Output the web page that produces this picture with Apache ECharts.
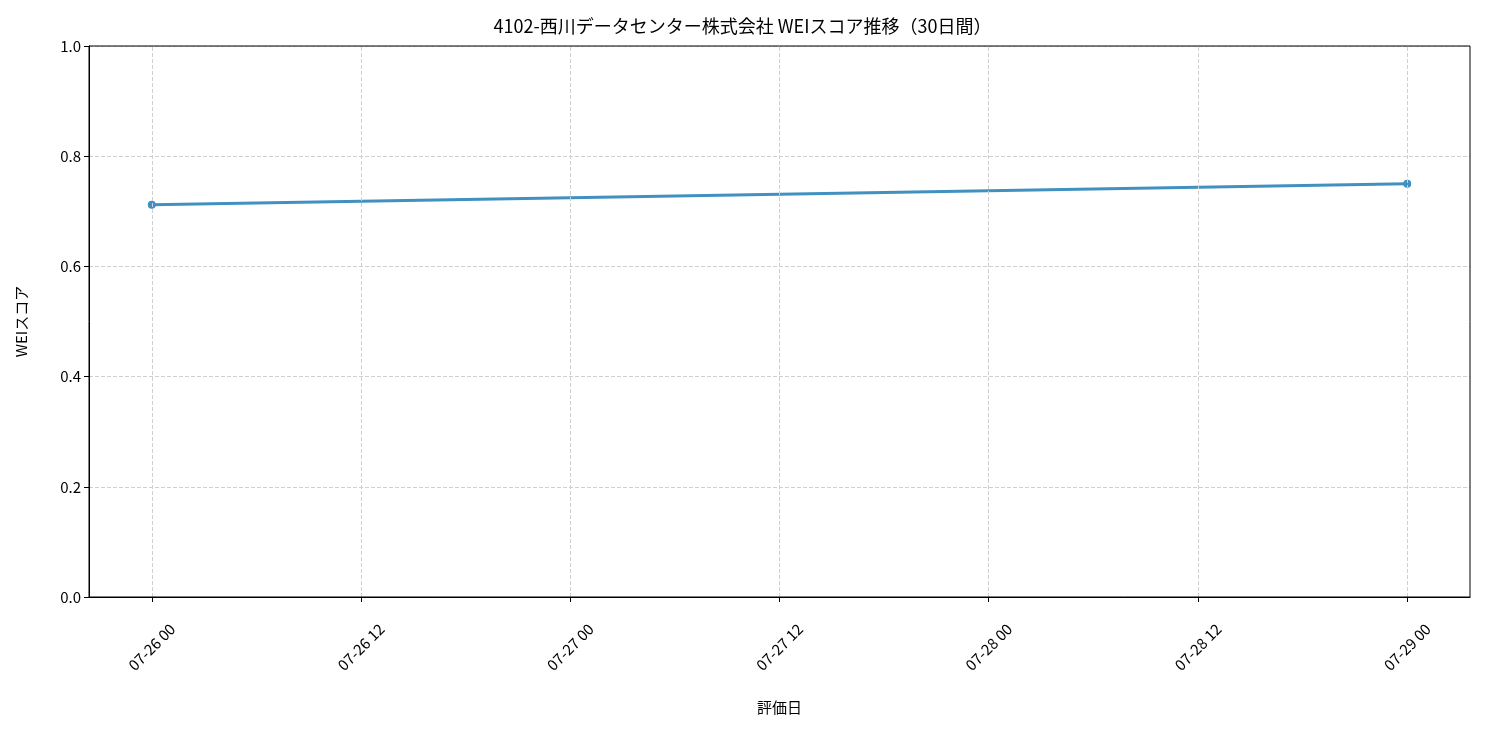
<!DOCTYPE html>
<html><head><meta charset="utf-8">
<script src="https://cdn.jsdelivr.net/npm/echarts@6/dist/echarts.min.js"></script>
<style>html,body{margin:0;padding:0;background:#fff}#c{width:1485px;height:734px}</style>
</head><body><div id="c"></div>
<script>
const dates = ['2025-07-26T00:00:00Z', '2025-07-29T00:00:00Z'];
const scores = [0.712, 0.750];
const tickLabels = ['2025-07-26T00:00:00Z','2025-07-26T12:00:00Z','2025-07-27T00:00:00Z','2025-07-27T12:00:00Z','2025-07-28T00:00:00Z','2025-07-28T12:00:00Z','2025-07-29T00:00:00Z'];
const xs = dates.map(d => Date.parse(d));
const ticks = tickLabels.map(d => Date.parse(d));
const pad = (xs[1]-xs[0])*0.05;
const p2 = n => String(n).padStart(2,'0');
const fmt = v => { const d = new Date(v); return p2(d.getUTCMonth()+1)+'-'+p2(d.getUTCDate())+' '+p2(d.getUTCHours()); };
const font = '"Noto Sans CJK JP", sans-serif';
const chart = echarts.init(document.getElementById('c'));
chart.setOption({
  animation:false,
  textStyle:{fontFamily:font},
  title:{text:'4102-西川データセンター株式会社 WEIスコア推移（30日間）',left:'center',top:12,textStyle:{fontSize:18,fontWeight:'normal',color:'#000',fontFamily:font}},
  grid:{left:89,right:15,top:46,bottom:137},
  xAxis:{type:'value',min:xs[0]-pad,max:xs[1]+pad,name:'評価日',nameLocation:'middle',nameGap:103,
    nameTextStyle:{fontSize:15,color:'#000'},
    axisLine:{lineStyle:{color:'#000'}},splitLine:{show:false},
    axisTick:{customValues:ticks,length:5,lineStyle:{color:'#000'}},
    axisLabel:{customValues:ticks,formatter:fmt,rotate:45,fontSize:15,color:'#000',margin:50,align:'center',verticalAlign:'middle'}},
  yAxis:{type:'value',min:0,max:1,interval:0.2,name:'WEIスコア',nameLocation:'middle',nameGap:60,
    nameTextStyle:{fontSize:15,color:'#000'},
    axisLine:{show:true,lineStyle:{color:'#000'}},axisTick:{show:true,length:5,lineStyle:{color:'#000'}},
    axisLabel:{formatter:v=>v.toFixed(1),fontSize:15,color:'#000'},
    splitLine:{lineStyle:{type:'dashed',color:'#d0d0d0'}}},
  series:[{type:'line',data:xs.map((x,i)=>[x,scores[i]]),symbol:'circle',symbolSize:8,
    lineStyle:{width:3,color:'#4090c0'},itemStyle:{color:'#4090c0'},
    markLine:{silent:true,symbol:'none',label:{show:false},lineStyle:{type:'dashed',color:'#d0d0d0',width:1},
      data:ticks.map(t=>({xAxis:t}))}},
  ],
  graphic:[{type:'rect',shape:{x:89,y:46,width:1381,height:551},style:{fill:'none',stroke:'#000',lineWidth:1},silent:true,z:100}]
});
</script></body></html>
